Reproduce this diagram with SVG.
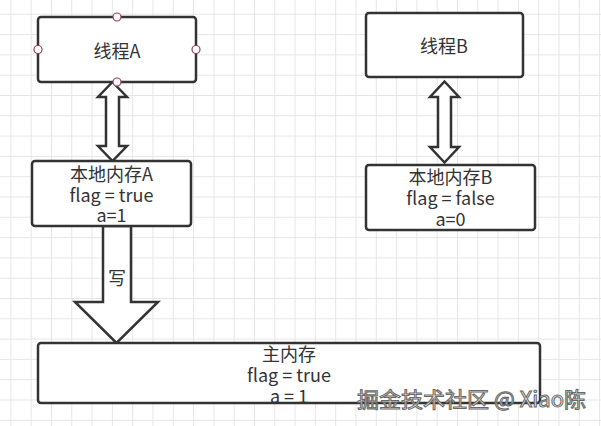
<svg xmlns="http://www.w3.org/2000/svg" width="601" height="426" viewBox="0 0 601 426">
<defs>
<pattern id="grid" width="20.3" height="20.3" patternUnits="userSpaceOnUse" x="10.4" y="13.8">
<path d="M0 0.5 H20.3 M0.5 0 V20.3" fill="none" stroke="#e6e6e6" stroke-width="1"/>
</pattern>
</defs>
<style>
.box{fill:#fff;stroke:#333;stroke-width:2.5}
.arrow{fill:#fff;stroke:#333;stroke-width:2.5;stroke-linejoin:miter}
.t{font-family:"Noto Sans CJK SC","Liberation Sans",sans-serif;font-size:18px;fill:#333;text-anchor:middle;dominant-baseline:central}
.pt{fill:#fff;stroke:#94404f;stroke-width:1.2}
.wm{font-family:"Noto Sans CJK SC","Liberation Sans",sans-serif;font-size:21px;fill:#f2f2f2;stroke:#686868;stroke-width:1;dominant-baseline:central}
</style>
<rect width="601" height="426" fill="#fff"/>
<rect width="601" height="426" fill="url(#grid)"/>
<g id="connectors">
<path class="arrow" d="M112.5,82 L127,97 L119,97 L119,146 L127,146 L112.5,161 L98,146 L106,146 L106,97 L98,97 Z"/>
<path class="arrow" d="M444.5,81.5 L459,97 L451,97 L451,147 L459,147 L444.5,162.5 L430,147 L438,147 L438,97 L430,97 Z"/>
<path class="arrow" d="M103,226 L131,226 L131,302 L158,302 L116.5,343 L75,302 L103,302 Z"/>
<text class="t" x="117" y="277">写</text>
</g>
<g id="threadA">
<rect class="box" x="38" y="17" width="158" height="65" rx="3"/>
<text class="t" x="117" y="50">线程A</text>
<circle class="pt" cx="117" cy="17" r="4"/>
<circle class="pt" cx="38" cy="49.5" r="4"/>
<circle class="pt" cx="196" cy="49.5" r="4"/>
<circle class="pt" cx="117" cy="82" r="4"/>
</g>
<g id="threadB">
<rect class="box" x="366" y="13" width="157" height="64" rx="3"/>
<text class="t" x="444" y="45">线程B</text>
</g>
<g id="localA">
<rect class="box" x="32" y="161" width="159" height="65" rx="3"/>
<text class="t" x="111.5" y="173">本地内存A</text>
<text class="t" x="111.5" y="193.5">flag = true</text>
<text class="t" x="111.5" y="214">a=1</text>
</g>
<g id="localB">
<rect class="box" x="366" y="165" width="169" height="65" rx="3"/>
<text class="t" x="450.5" y="176">本地内存B</text>
<text class="t" x="450.5" y="197">flag = false</text>
<text class="t" x="450.5" y="218">a=0</text>
</g>
<g id="mainMemory">
<rect class="box" x="38" y="343" width="502" height="60" rx="3"/>
<text class="t" x="289" y="353">主内存</text>
<text class="t" x="289" y="374">flag = true</text>
<text class="t" x="289" y="395">a = 1</text>
</g>
<text class="wm" x="357" y="398" textLength="229" lengthAdjust="spacingAndGlyphs">掘金技术社区 @ Xiao陈</text>
</svg>
